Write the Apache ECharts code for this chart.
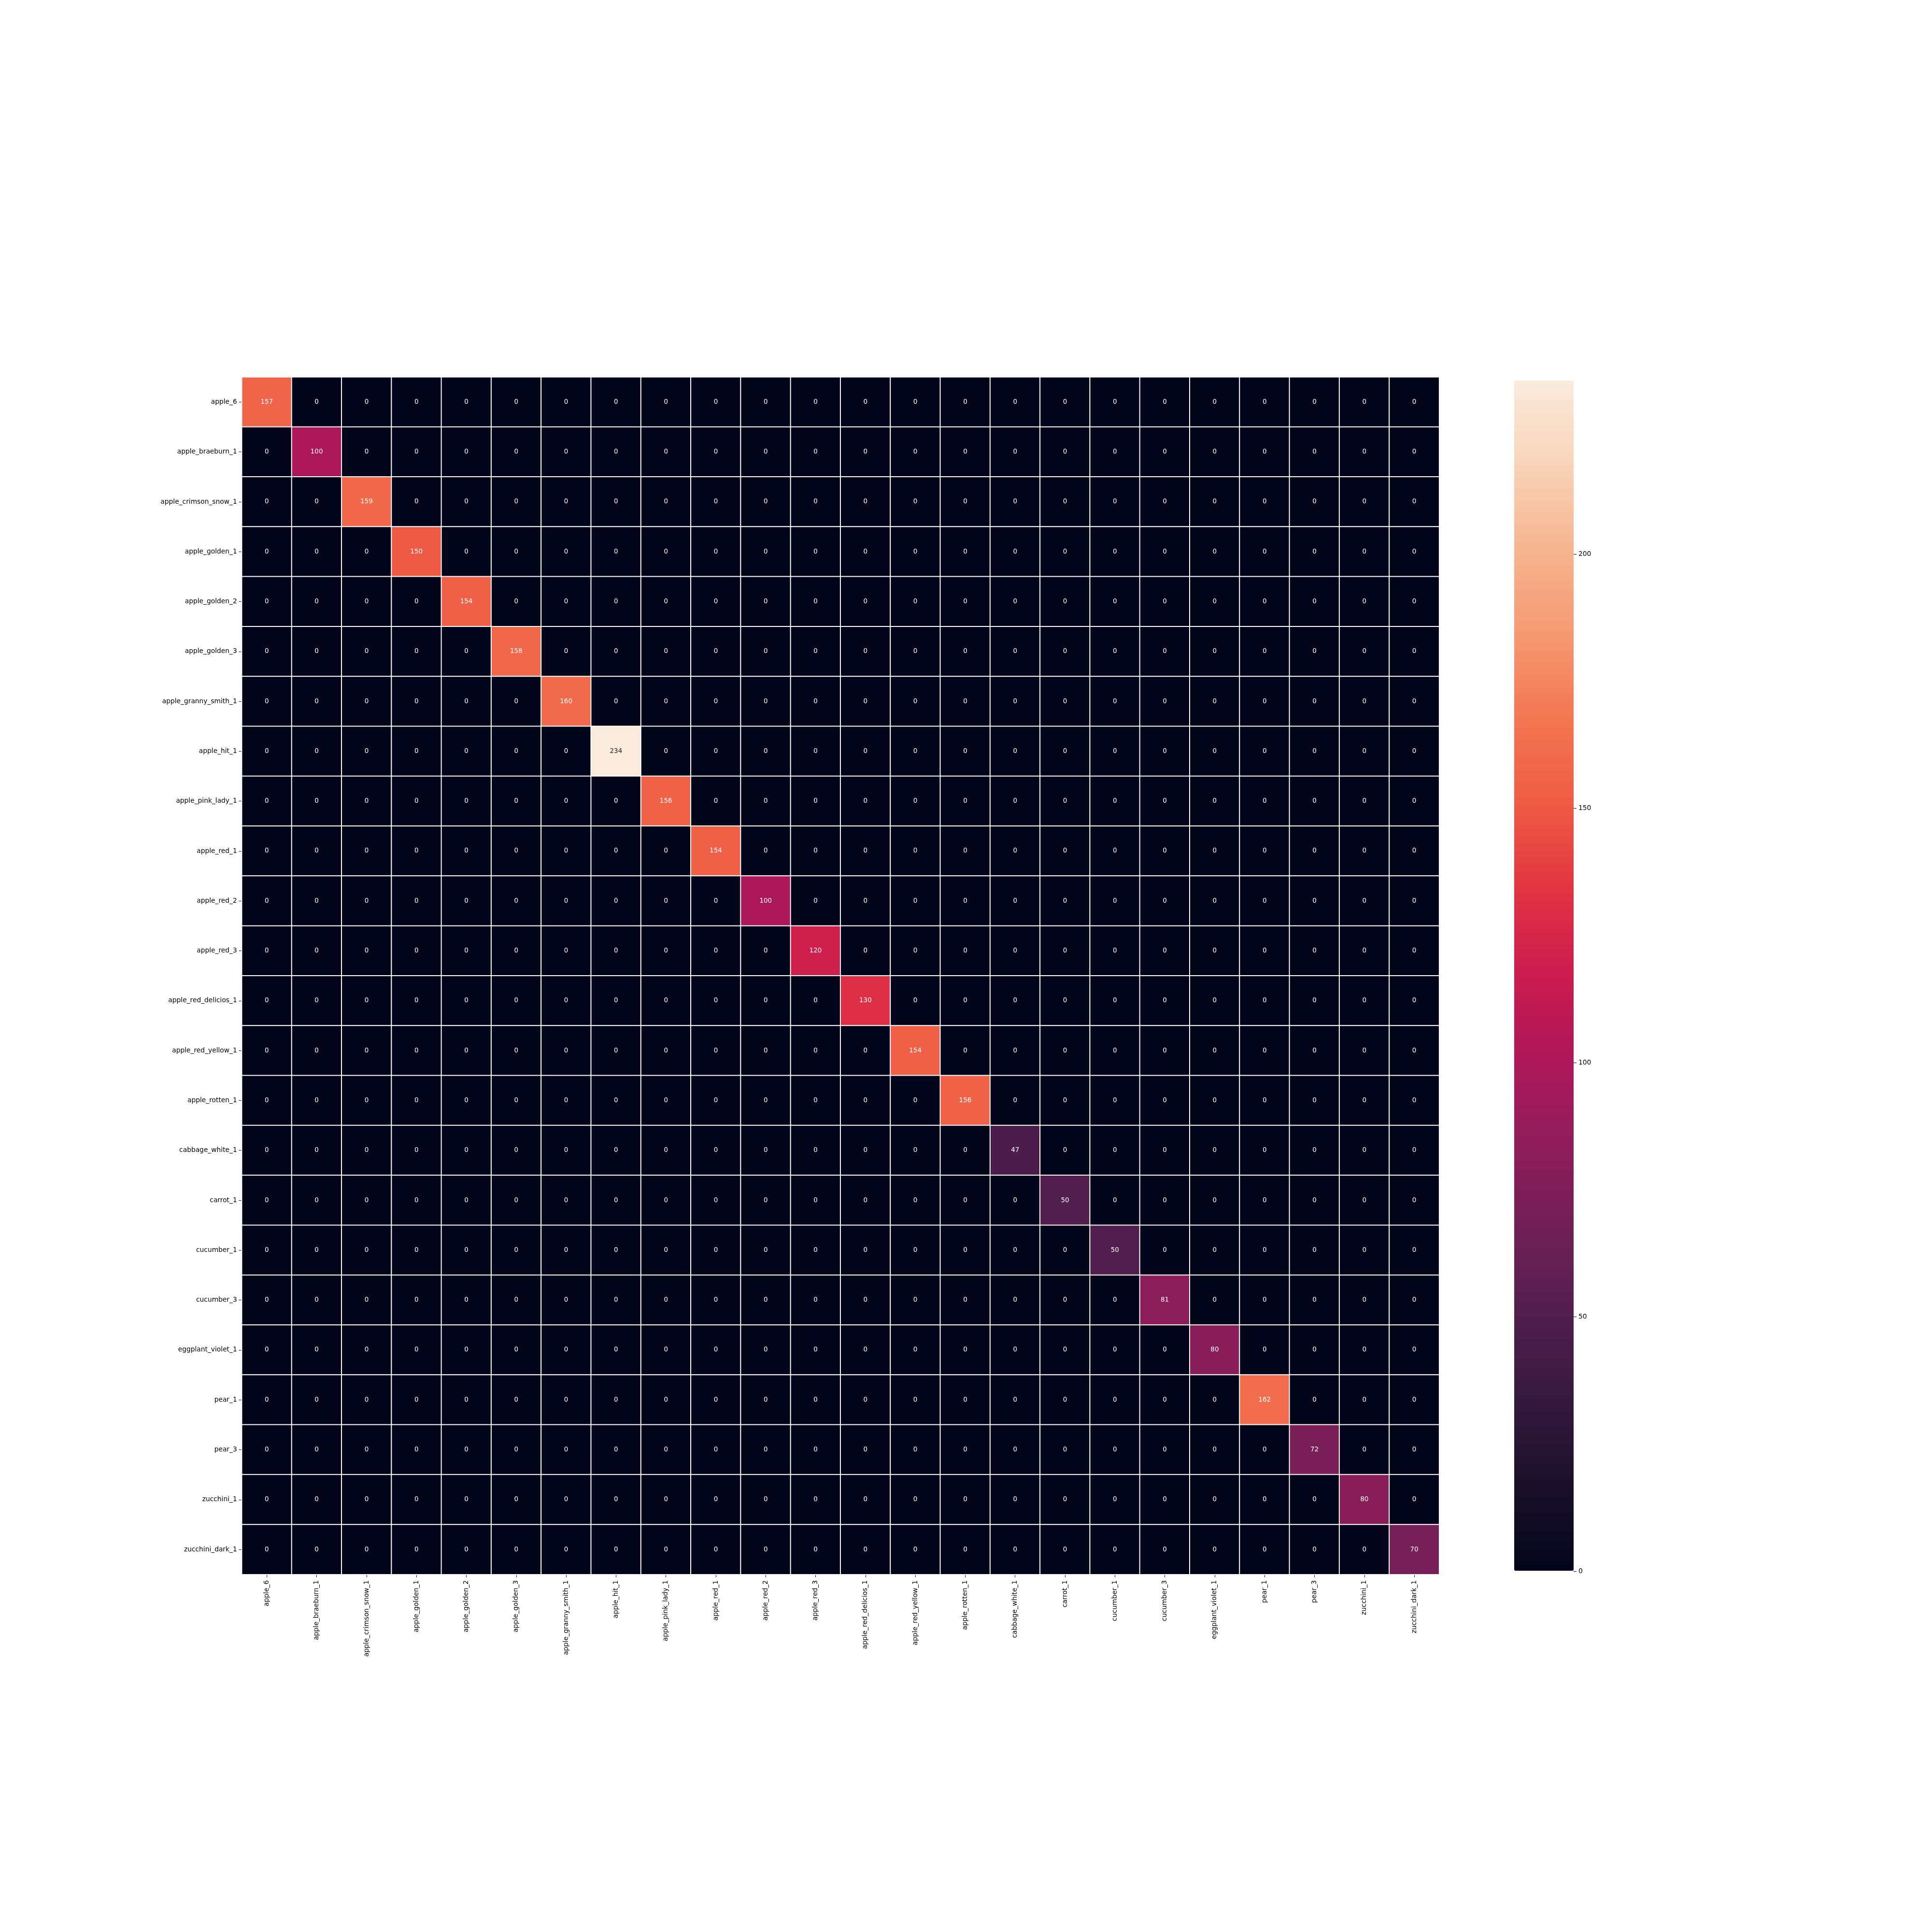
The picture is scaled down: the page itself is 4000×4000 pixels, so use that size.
<!DOCTYPE html>
<html>
<head>
<meta charset="utf-8">
<style>html,body{margin:0;padding:0;background:#fff}#c{width:4000px;height:4000px}</style>
<script src="https://cdn.jsdelivr.net/npm/echarts@6/dist/echarts.min.js"></script>
</head>
<body>
<div id="c"></div>
<script>
const categories = ["apple_6","apple_braeburn_1","apple_crimson_snow_1","apple_golden_1","apple_golden_2","apple_golden_3","apple_granny_smith_1","apple_hit_1","apple_pink_lady_1","apple_red_1","apple_red_2","apple_red_3","apple_red_delicios_1","apple_red_yellow_1","apple_rotten_1","cabbage_white_1","carrot_1","cucumber_1","cucumber_3","eggplant_violet_1","pear_1","pear_3","zucchini_1","zucchini_dark_1"];
const diagonal = [157,100,159,150,154,158,160,234,156,154,100,120,130,154,156,47,50,50,81,80,162,72,80,70];
const colorbarMax = 234;
const colorbarTicks = ["0","50","100","150","200"];
const rocket = ["#03051a","#1a1029","#35193e","#511e4d","#701f57","#8f1d5b","#ad1759","#cb1b4f","#e13342","#ee5a43","#f37651","#f59871","#f6b48f","#f8d3b8","#faebdd"];

const font = 'DejaVu Sans';
const data = [];
categories.forEach((_, r) => categories.forEach((_, c) => {
  const v = r === c ? diagonal[r] : 0;
  data.push({ value: [c, r, v], label: { color: v > 200 ? '#262626' : '#ffffff' } });
}));

const chart = echarts.init(document.getElementById('c'), null, { renderer: 'canvas', width: 4000, height: 4000 });
chart.setOption({
  animation: false,
  backgroundColor: '#ffffff',
  textStyle: { fontFamily: font },
  grid: [
    { left: 500.7, top: 780.7, width: 2479, height: 2479, containLabel: false },
    { left: 3135, top: 1147, width: 123, height: 2106, containLabel: false }
  ],
  xAxis: [
    { type: 'category', gridIndex: 0, data: categories, position: 'bottom',
      axisLine: { show: false }, splitLine: { show: false }, splitArea: { show: false },
      axisTick: { show: true, alignWithLabel: true, length: 6, lineStyle: { color: '#000', width: 1 } },
      axisLabel: { interval: 0, rotate: 90, margin: 12, fontSize: 13.8, fontFamily: font, color: '#000' } },
    { type: 'value', gridIndex: 1, show: false, min: 0, max: 1 }
  ],
  yAxis: [
    { type: 'category', gridIndex: 0, data: categories, inverse: true, position: 'left',
      axisLine: { show: false }, splitLine: { show: false }, splitArea: { show: false },
      axisTick: { show: true, alignWithLabel: true, length: 6, lineStyle: { color: '#000', width: 1 } },
      axisLabel: { interval: 0, margin: 10, fontSize: 13.8, fontFamily: font, color: '#000' } },
    { type: 'category', gridIndex: 1, position: 'right', data: colorbarTicks, boundaryGap: false, z: 10,
      axisLine: { show: false, onZero: false }, splitLine: { show: false }, splitArea: { show: false },
      axisTick: { show: true, interval: 0, length: 6, lineStyle: { color: '#000', width: 1 } },
      axisLabel: { interval: 0, margin: 10, fontSize: 13.8, fontFamily: font, color: '#000' } }
  ],
  visualMap: {
    type: 'continuous', seriesIndex: 0, min: 0, max: colorbarMax, calculable: false, realtime: false, hoverLink: false,
    orient: 'vertical', left: 3135, top: 788, itemWidth: 123, itemHeight: 2464, text: null, showLabel: false,
    padding: 0, inRange: { color: rocket }
  },
  series: [{
    type: 'heatmap', xAxisIndex: 0, yAxisIndex: 0, data, silent: true, progressive: 0,
    itemStyle: { borderColor: '#ffffff', borderWidth: 2 },
    label: { show: true, fontSize: 13.5, fontFamily: font, formatter: p => String(p.value[2]) },
    emphasis: { disabled: true }
  }]
});
</script>
</body>
</html>
